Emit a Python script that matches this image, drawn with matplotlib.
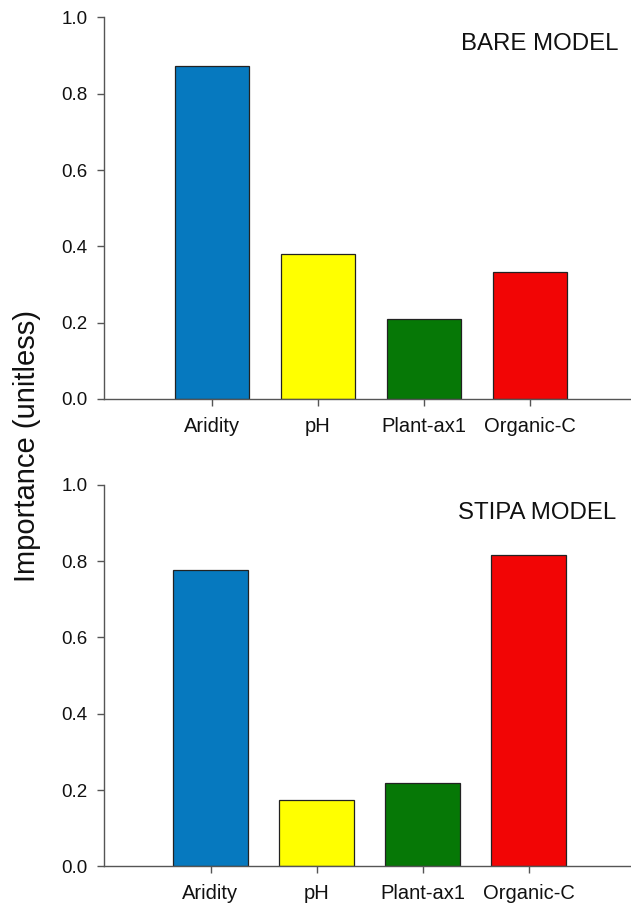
import matplotlib
matplotlib.use("Agg")
import matplotlib.pyplot as plt

categories = ["Aridity", "pH", "Plant-ax1", "Organic-C"]
bare_values = [0.872, 0.381, 0.210, 0.334]
stipa_values = [0.776, 0.173, 0.219, 0.816]
bar_colors = ["#0679BF", "#FFFF00", "#067806", "#F20505"]
yticks = [0.0, 0.2, 0.4, 0.6, 0.8, 1.0]

plt.rcParams["font.family"] = ["Liberation Sans", "DejaVu Sans"]

fig = plt.figure(figsize=(6.31, 9.07), dpi=100)
ax_top = fig.add_axes([0.1648, 0.5601, 0.8352, 0.4207])
ax_bot = fig.add_axes([0.1648, 0.0449, 0.8352, 0.4204])


def draw_panel(ax, values, title, xlim, title_xy):
    x = list(range(len(categories)))
    ax.bar(x, values, width=0.7, color=bar_colors, edgecolor="#222222", linewidth=0.9)
    ax.set_xlim(*xlim)
    ax.set_ylim(0, 1.0)
    ax.set_xticks(x)
    ax.set_xticklabels(categories, fontsize=14.5)
    ax.set_yticks(yticks)
    ax.set_yticklabels(["%.1f" % v for v in yticks], fontsize=13.5)
    for side in ["top", "right"]:
        ax.spines[side].set_visible(False)
    for side in ["left", "bottom"]:
        ax.spines[side].set_color("#555555")
        ax.spines[side].set_linewidth(1.0)
    ax.tick_params(axis="both", direction="out", length=5, width=1.0,
                   color="#555555", labelcolor="#111111")
    ax.tick_params(axis="x", pad=8)
    ax.tick_params(axis="y", pad=7)
    ax.text(title_xy[0], title_xy[1], title, transform=ax.transAxes, ha="right",
            va="center", fontsize=17.3, color="#111111")


draw_panel(ax_top, bare_values, "BARE MODEL", (-1.02, 3.953), (0.977, 0.930))
draw_panel(ax_bot, stipa_values, "STIPA MODEL", (-1.005, 3.967), (0.972, 0.927))

fig.text(0.043, 0.508, "Importance (unitless)", rotation=90, ha="center",
         va="center", fontsize=21, color="#111111")

fig.savefig("out.png", dpi=100)
